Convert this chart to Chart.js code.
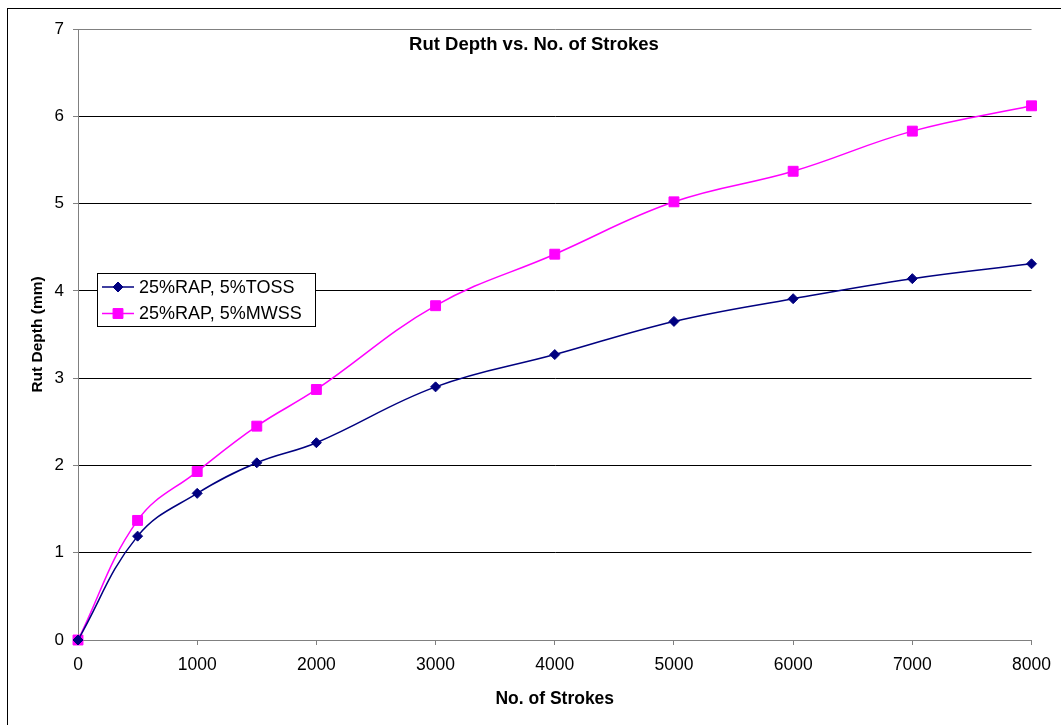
<!DOCTYPE html>
<html>
<head>
<meta charset="utf-8">
<script src="https://cdn.jsdelivr.net/npm/chart.js@4/dist/chart.umd.min.js"></script>
<style>
  html, body { margin: 0; padding: 0; background: #fff; overflow: hidden; }
  #wrap { position: relative; width: 1061px; height: 725px; }
  #frame { position: absolute; left: 7px; top: 8px; width: 1100px; height: 800px;
           border-left: 1px solid #000; border-top: 1px solid #000; pointer-events: none; }
  canvas { position: absolute; left: 0; top: 0; }
</style>
</head>
<body>
<div id="wrap">
  <canvas id="c" width="1061" height="725"></canvas>
  <div id="frame"></div>
</div>
<script>
const chartTitle = 'Rut Depth vs. No. of Strokes';
const xTitle = 'No. of Strokes';
const yTitle = 'Rut Depth (mm)';
const strokes = [0, 500, 1000, 1500, 2000, 3000, 4000, 5000, 6000, 7000, 8000];
const seriesNames = ['25%RAP, 5%TOSS', '25%RAP, 5%MWSS'];
const tossDepth = [0, 1.19, 1.68, 2.03, 2.26, 2.90, 3.27, 3.65, 3.91, 4.14, 4.31];
const mwssDepth = [0, 1.37, 1.93, 2.45, 2.87, 3.83, 4.42, 5.02, 5.37, 5.83, 6.12];
const xTicks = [0, 1000, 2000, 3000, 4000, 5000, 6000, 7000, 8000];
const yTicks = [0, 1, 2, 3, 4, 5, 6, 7];

const FONT = "'Liberation Sans', Arial, sans-serif";
const colors = ['#000080', '#FF00FF'];
const styles = ['rectRot', 'rect'];
const radii = [5, 7];

const toPts = arr => strokes.map((x, i) => ({ x: x, y: arr[i] }));

const titlePlugin = {
  id: 'innerTitle',
  afterDraw(chart) {
    const ctx = chart.ctx;
    ctx.save();
    ctx.font = "bold 18.5px " + FONT;
    ctx.fillStyle = '#000';
    ctx.textAlign = 'center';
    ctx.textBaseline = 'middle';
    ctx.fillText(chartTitle, 534, 45);
    ctx.restore();
  }
};

const legendPlugin = {
  id: 'innerLegend',
  afterDraw(chart) {
    const ctx = chart.ctx;
    const bx = 97, by = 273, bw = 218, bh = 53;
    ctx.save();
    ctx.fillStyle = '#fff';
    ctx.fillRect(bx, by, bw, bh);
    ctx.strokeStyle = '#000';
    ctx.lineWidth = 1;
    ctx.strokeRect(bx + 0.5, by + 0.5, bw, bh);
    chart.data.datasets.forEach((ds, i) => {
      const yy = by + 14 + i * 26.5;
      ctx.strokeStyle = ds.borderColor;
      ctx.lineWidth = 1.5;
      ctx.beginPath();
      ctx.moveTo(102, yy);
      ctx.lineTo(134, yy);
      ctx.stroke();
      ctx.fillStyle = ds.backgroundColor;
      ctx.strokeStyle = ds.borderColor;
      ctx.lineWidth = 1;
      ctx.beginPath();
      if (ds.pointStyle === 'rect') {
        const s = ds.pointRadius * Math.SQRT1_2;
        ctx.rect(118 - s, yy - s, 2 * s, 2 * s);
      } else {
        const r = ds.pointRadius;
        ctx.moveTo(118, yy - r); ctx.lineTo(118 + r, yy); ctx.lineTo(118, yy + r); ctx.lineTo(118 - r, yy); ctx.closePath();
      }
      ctx.fill();
      ctx.stroke();
      ctx.fillStyle = '#000';
      ctx.font = "18px " + FONT;
      ctx.textAlign = 'left';
      ctx.textBaseline = 'middle';
      ctx.fillText(ds.label, 139, yy + 1);
    });
    ctx.restore();
  }
};

new Chart(document.getElementById('c'), {
  type: 'line',
  data: {
    datasets: [tossDepth, mwssDepth].map((arr, i) => ({
      label: seriesNames[i],
      data: toPts(arr),
      borderColor: colors[i],
      backgroundColor: colors[i],
      borderWidth: 1.5,
      pointStyle: styles[i],
      pointRadius: radii[i],
      pointBorderWidth: 1,
      tension: 0.4,
      clip: false,
      fill: false
    }))
  },
  options: {
    responsive: false,
    animation: false,
    events: [],
    layout: { padding: { left: 0, right: 26, top: 29, bottom: 0 } },
    plugins: { legend: { display: false }, title: { display: false }, tooltip: { enabled: false } },
    scales: {
      x: {
        type: 'linear',
        min: 0, max: 8000,
        afterBuildTicks: s => { s.ticks = xTicks.map(v => ({ value: v })); },
        afterFit: s => { s.height = 85; },
        ticks: { color: '#000', font: { family: FONT, size: 17.5 }, padding: 10, maxRotation: 0, autoSkip: false,
                 callback: v => String(v) },
        grid: { drawOnChartArea: false, drawTicks: true, tickLength: 5, tickColor: '#808080' },
        border: { display: true, color: '#808080', width: 1 },
        title: { display: true, text: xTitle, color: '#000', font: { family: FONT, size: 17.5, weight: 'bold' }, padding: { top: 0, bottom: 15 } }
      },
      y: {
        min: 0, max: 7,
        afterBuildTicks: s => { s.ticks = yTicks.map(v => ({ value: v })); },
        afterFit: s => { s.width = 78; },
        ticks: { color: '#000', font: { family: FONT, size: 17 }, padding: 9, callback: v => String(v) },
        grid: {
          color: c => (c.tick && (c.tick.value === 7 || c.tick.value === 0)) ? '#808080' : '#000',
          tickColor: '#808080', tickLength: 5, lineWidth: 1
        },
        border: { display: true, color: '#808080', width: 1 },
        title: { display: true, text: yTitle, color: '#000', font: { family: FONT, size: 15.5, weight: 'bold' }, padding: { top: 28, bottom: 0 } }
      }
    }
  },
  plugins: [titlePlugin, legendPlugin]
});
</script>
</body>
</html>
